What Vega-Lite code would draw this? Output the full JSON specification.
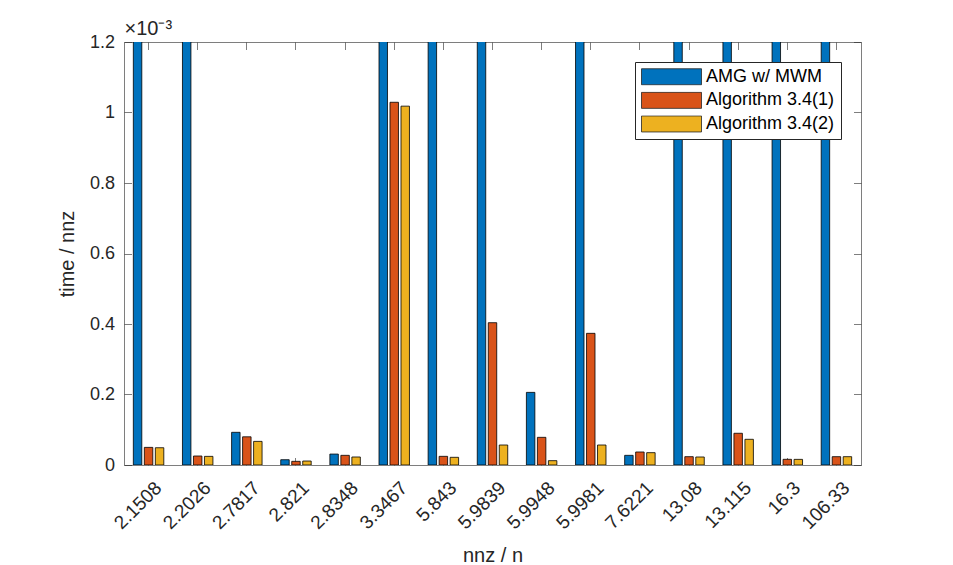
{
  "$schema": "https://vega.github.io/schema/vega-lite/v6.json",
  "autosize": "none",
  "width": 737,
  "height": 423,
  "padding": {"left": 124, "top": 42, "right": 92, "bottom": 100},
  "background": "white",
  "config": {
    "font": "Liberation Sans",
    "view": {"stroke": null},
    "axis": {"grid": false, "zindex": 1, "domainColor": "#262626", "domainWidth": 0.6, "tickColor": "#262626", "tickWidth": 0.6, "labelColor": "#262626", "titleColor": "#262626", "labelFont": "Liberation Sans", "titleFont": "Liberation Sans", "titleFontWeight": "normal"},
    "axisTop": {"titleFontSize": 20}
  },
  "data": {
    "values": [
      {"ratio": "2.1508", "series": "AMG w/ MWM", "t": 0.003},
      {"ratio": "2.1508", "series": "Algorithm 3.4(1)", "t": 0.000050},
      {"ratio": "2.1508", "series": "Algorithm 3.4(2)", "t": 0.000049},
      {"ratio": "2.2026", "series": "AMG w/ MWM", "t": 0.003},
      {"ratio": "2.2026", "series": "Algorithm 3.4(1)", "t": 0.0000255},
      {"ratio": "2.2026", "series": "Algorithm 3.4(2)", "t": 0.0000245},
      {"ratio": "2.7817", "series": "AMG w/ MWM", "t": 0.0000927},
      {"ratio": "2.7817", "series": "Algorithm 3.4(1)", "t": 0.0000800},
      {"ratio": "2.7817", "series": "Algorithm 3.4(2)", "t": 0.0000670},
      {"ratio": "2.821", "series": "AMG w/ MWM", "t": 0.0000150},
      {"ratio": "2.821", "series": "Algorithm 3.4(1)", "t": 0.0000104},
      {"ratio": "2.821", "series": "Algorithm 3.4(2)", "t": 0.0000113},
      {"ratio": "2.8348", "series": "AMG w/ MWM", "t": 0.0000310},
      {"ratio": "2.8348", "series": "Algorithm 3.4(1)", "t": 0.0000274},
      {"ratio": "2.8348", "series": "Algorithm 3.4(2)", "t": 0.0000227},
      {"ratio": "3.3467", "series": "AMG w/ MWM", "t": 0.003},
      {"ratio": "3.3467", "series": "Algorithm 3.4(1)", "t": 0.001029},
      {"ratio": "3.3467", "series": "Algorithm 3.4(2)", "t": 0.001018},
      {"ratio": "5.843", "series": "AMG w/ MWM", "t": 0.003},
      {"ratio": "5.843", "series": "Algorithm 3.4(1)", "t": 0.0000246},
      {"ratio": "5.843", "series": "Algorithm 3.4(2)", "t": 0.0000218},
      {"ratio": "5.9839", "series": "AMG w/ MWM", "t": 0.003},
      {"ratio": "5.9839", "series": "Algorithm 3.4(1)", "t": 0.0004037},
      {"ratio": "5.9839", "series": "Algorithm 3.4(2)", "t": 0.0000567},
      {"ratio": "5.9948", "series": "AMG w/ MWM", "t": 0.000206},
      {"ratio": "5.9948", "series": "Algorithm 3.4(1)", "t": 0.0000785},
      {"ratio": "5.9948", "series": "Algorithm 3.4(2)", "t": 0.0000123},
      {"ratio": "5.9981", "series": "AMG w/ MWM", "t": 0.003},
      {"ratio": "5.9981", "series": "Algorithm 3.4(1)", "t": 0.0003735},
      {"ratio": "5.9981", "series": "Algorithm 3.4(2)", "t": 0.0000567},
      {"ratio": "7.6221", "series": "AMG w/ MWM", "t": 0.0000274},
      {"ratio": "7.6221", "series": "Algorithm 3.4(1)", "t": 0.0000369},
      {"ratio": "7.6221", "series": "Algorithm 3.4(2)", "t": 0.0000350},
      {"ratio": "13.08", "series": "AMG w/ MWM", "t": 0.003},
      {"ratio": "13.08", "series": "Algorithm 3.4(1)", "t": 0.0000236},
      {"ratio": "13.08", "series": "Algorithm 3.4(2)", "t": 0.0000227},
      {"ratio": "13.115", "series": "AMG w/ MWM", "t": 0.003},
      {"ratio": "13.115", "series": "Algorithm 3.4(1)", "t": 0.0000900},
      {"ratio": "13.115", "series": "Algorithm 3.4(2)", "t": 0.0000729},
      {"ratio": "16.3", "series": "AMG w/ MWM", "t": 0.003},
      {"ratio": "16.3", "series": "Algorithm 3.4(1)", "t": 0.0000161},
      {"ratio": "16.3", "series": "Algorithm 3.4(2)", "t": 0.0000160},
      {"ratio": "106.33", "series": "AMG w/ MWM", "t": 0.003},
      {"ratio": "106.33", "series": "Algorithm 3.4(1)", "t": 0.0000236},
      {"ratio": "106.33", "series": "Algorithm 3.4(2)", "t": 0.0000236}
    ]
  },
  "layer": [
    {
      "mark": {"type": "bar", "stroke": "black", "strokeWidth": 0.8, "clip": true},
      "encoding": {
        "x": {"field": "ratio", "type": "nominal", "sort": null,
              "scale": {"paddingInner": 0.38, "paddingOuter": 0.19},
              "axis": {"orient": "bottom", "title": "nnz / n", "titleFontSize": 20, "titlePadding": 13, "labelFontSize": 19, "labelAngle": -45, "labelAlign": "right", "labelBaseline": "middle", "labelOffset": 10, "labelPadding": 27, "tickSize": -7.5}},
        "xOffset": {"field": "series", "type": "nominal", "sort": null, "scale": {"paddingInner": 0.23, "paddingOuter": 0}},
        "y": {"field": "t", "type": "quantitative",
              "scale": {"domain": [0, 0.0012], "nice": false, "zero": true},
              "axis": {"orient": "left", "title": "time / nnz", "titleFontSize": 20, "titlePadding": 12, "labelFontSize": 18, "labelPadding": 17, "tickSize": -7.5, "values": [0, 0.0002, 0.0004, 0.0006, 0.0008, 0.001, 0.0012], "labelExpr": "format(datum.value*1000, '~g')"}},
        "color": {"field": "series", "type": "nominal", "sort": null,
                  "scale": {"domain": ["AMG w/ MWM", "Algorithm 3.4(1)", "Algorithm 3.4(2)"], "range": ["#0072BD", "#D95319", "#EDB120"]},
                  "legend": {"orient": "top-right", "offset": 20, "title": null, "padding": 6, "strokeColor": "#262626", "fillColor": "white",
                             "symbolType": "M-1,-0.267L1,-0.267L1,0.267L-1,0.267Z", "symbolSize": 3600, "symbolStrokeColor": "#262626", "symbolStrokeWidth": 0.8, "symbolOpacity": 1,
                             "labelFontSize": 18, "labelColor": "#000000", "labelOffset": 4, "clipHeight": 17.5, "rowPadding": 4.6, "labelFont": "Liberation Sans"}}
      }
    },
    {
      "mark": {"type": "point", "opacity": 0},
      "encoding": {
        "x": {"field": "ratio", "type": "nominal", "sort": null,
              "axis": {"orient": "top", "title": "×10⁻³", "titleFontSize": 20, "titleAnchor": "start", "titleAlign": "left", "titlePadding": 3, "labels": false, "tickSize": -7.5}},
        "y": {"field": "t", "type": "quantitative",
              "axis": {"orient": "right", "title": null, "labels": false, "tickSize": -7.5, "values": [0, 0.0002, 0.0004, 0.0006, 0.0008, 0.001, 0.0012]}}
      }
    }
  ],
  "resolve": {"axis": {"x": "independent", "y": "independent"}}
}
